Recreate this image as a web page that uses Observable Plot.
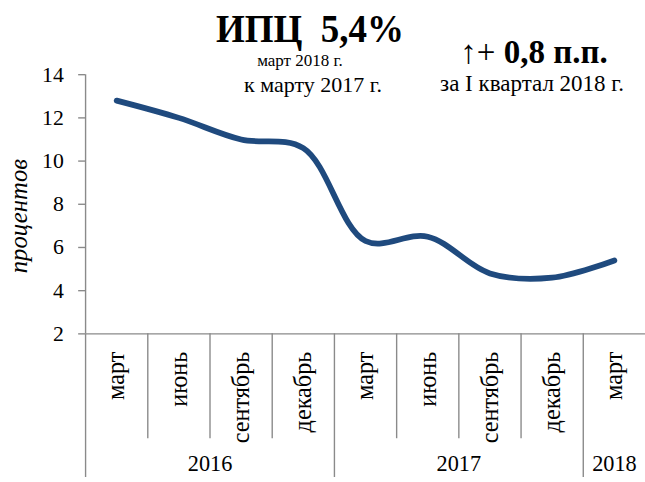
<!DOCTYPE html>
<html><head><meta charset="utf-8">
<script src="https://cdn.jsdelivr.net/npm/d3@7"></script>
<script src="https://cdn.jsdelivr.net/npm/@observablehq/plot@0.6"></script>
<style>
body{margin:0;overflow:hidden;background:#fff;}
#wrap{position:relative;width:645px;height:482px;overflow:hidden;}
#wrap svg{font-family:"Liberation Serif","Times New Roman",serif;}
#titles{position:absolute;left:0;top:0;pointer-events:none;}
</style></head><body><div id="wrap"></div>
<script>
// ---- data ----
const months = ["март","июнь","сентябрь","декабрь","март","июнь","сентябрь","декабрь","март"];
const years = ["2016","2017","2018"];
const yearOfMonth = [0,0,0,0,1,1,1,1,2];
const values = [12.8,12.0,11.0,10.6,6.3,6.5,4.8,4.6,5.4];
const yTicks = [2,4,6,8,10,12,14];
const yLabel = "процентов";
const titleMain = "ИПЦ  5,4%";
const titleSub1 = "март 2018 г.";
const titleSub2 = "к марту 2017 г.";
const changeArrow = "↑+";
const changeMain = " 0,8 п.п.";
const changeSub = "за I квартал 2018 г.";

// ---- derived ----
const idx = months.map((_, i) => i);
const data = idx.map(i => ({i, v: values[i]}));
const yearStarts = idx.filter(i => i === 0 || yearOfMonth[i] !== yearOfMonth[i - 1]);
const yearSeps = yearStarts.map(i => i - 0.5);
const monthSeps = idx.filter(i => !yearStarts.includes(i)).map(i => i - 0.5);
const yearCenters = years.map((_, y) => d3.mean(idx.filter(i => yearOfMonth[i] === y)));

const axisGray = "#8a8a8a";
const lineColor = "#1f4a7e";
const serif = '"Liberation Serif","Times New Roman",serif';

const chart = Plot.plot({
  width: 652,
  height: 482,
  marginLeft: 86,
  marginRight: 0,
  marginTop: 75,
  marginBottom: 145,
  style: {fontFamily: serif, fontSize: "21px", color: "#000", background: "transparent"},
  x: {type: "linear", domain: [-0.5, months.length - 0.5]},
  y: {domain: [2, 14]},
  marks: [
    Plot.ruleX([-0.5], {stroke: axisGray, strokeWidth: 1.4}),
    Plot.ruleY([2], {stroke: axisGray, strokeWidth: 1.4}),
    Plot.axisY(yTicks, {tickSize: 7, tickPadding: 15, stroke: axisGray, strokeWidth: 1.4, fill: "#000", fontSize: 22, label: null}),
    Plot.axisX(monthSeps, {tickSize: 106, stroke: axisGray, strokeWidth: 1.4, tickFormat: () => "", label: null}),
    Plot.axisX(yearSeps, {tickSize: 150, stroke: axisGray, strokeWidth: 1.4, tickFormat: () => "", label: null}),
    Plot.axisX(idx, {tickSize: 0, tickPadding: 18, tickRotate: -90, tickFormat: i => months[i], fill: "#000", fontSize: 24.5, label: null}),
    Plot.axisX(yearCenters, {tickSize: 0, tickPadding: 123, tickFormat: (d, k) => years[k], fill: "#000", fontSize: 22.5, label: null}),
    Plot.text([yLabel], {frameAnchor: "left", textAnchor: "middle", rotate: -90, dx: -67, dy: 12, fontSize: 25, fontStyle: "italic", fill: "#000"}),
    Plot.line(data, {x: "i", y: "v", curve: "catmull-rom", stroke: lineColor, strokeWidth: 5.8, strokeLinecap: "round", strokeLinejoin: "round"})
  ]
});
document.getElementById("wrap").appendChild(chart);

// titles overlay
const svg = d3.select("#wrap").append("svg").attr("id", "titles").attr("width", 645).attr("height", 100)
  .style("font-family", serif);
svg.append("text").attr("x", 310).attr("y", 42).attr("text-anchor", "middle").attr("font-size", 37).attr("font-weight", "bold").attr("xml:space", "preserve").style("white-space", "pre")
  .attr("transform", "translate(0,42) scale(1,1.1) translate(0,-42)").text(titleMain);
svg.append("text").attr("x", 300).attr("y", 66).attr("text-anchor", "middle").attr("font-size", 17).text(titleSub1);
svg.append("text").attr("x", 313).attr("y", 92).attr("text-anchor", "middle").attr("font-size", 22).text(titleSub2);
const cm = svg.append("text").attr("x", 534).attr("y", 63).attr("text-anchor", "middle").attr("font-size", 33).attr("xml:space", "preserve").style("white-space", "pre");
cm.append("tspan").text(changeArrow);
cm.append("tspan").attr("font-weight", "bold").text(changeMain);
svg.append("text").attr("x", 532).attr("y", 91).attr("text-anchor", "middle").attr("font-size", 23).text(changeSub);
</script></body></html>
